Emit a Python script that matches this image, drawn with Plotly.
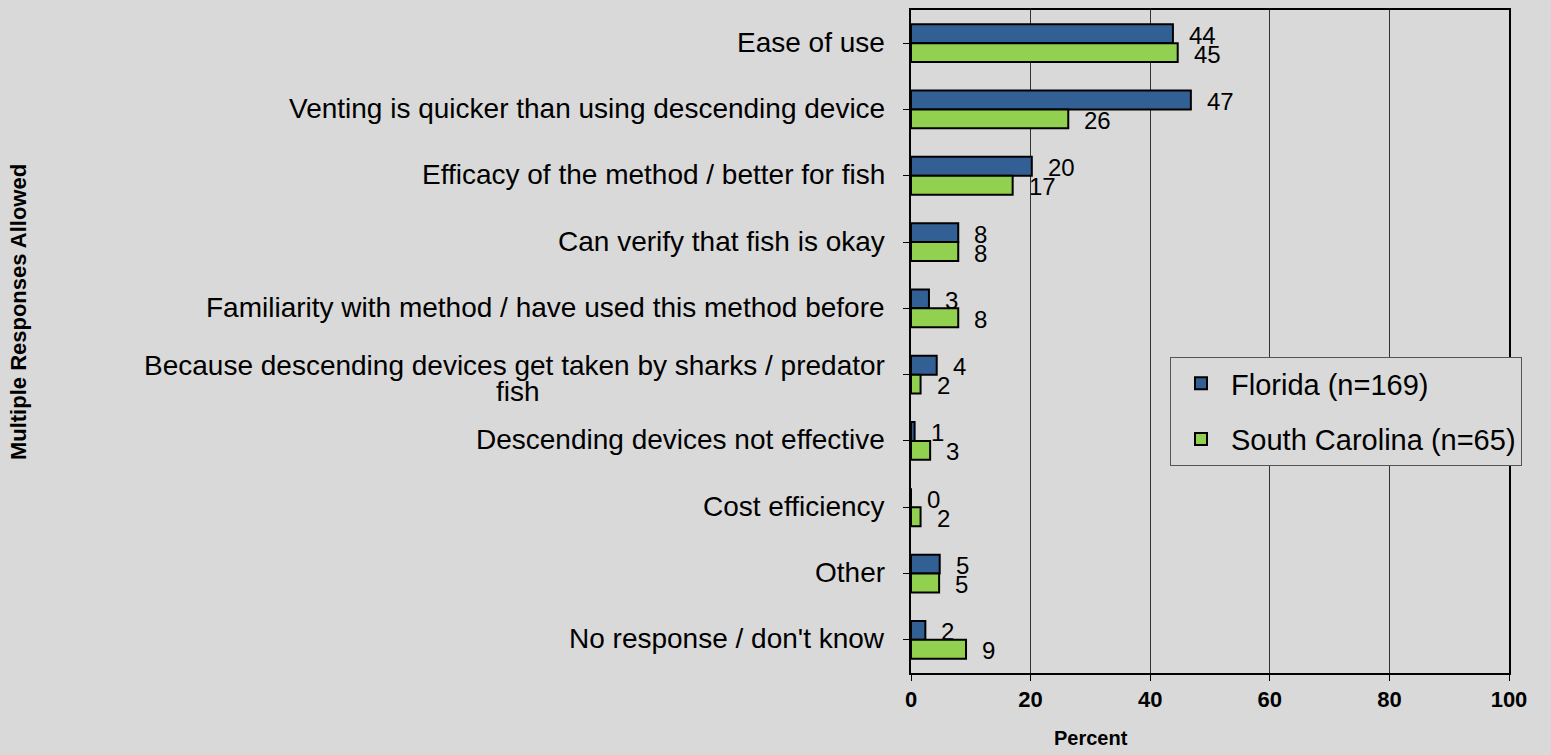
import plotly.graph_objects as go

categories = [
    "Ease of use",
    "Venting is quicker than using descending device",
    "Efficacy of the method / better for fish",
    "Can verify that fish is okay",
    "Familiarity with method / have used this method before",
    "Because descending devices get taken by sharks / predator<br>fish",
    "Descending devices not effective",
    "Cost efficiency",
    "Other",
    "No response / don't know",
]
florida = [43.8, 46.8, 20.2, 7.9, 3.0, 4.3, 0.6, 0.0, 4.8, 2.4]
south_carolina = [44.6, 26.3, 17.0, 7.9, 7.9, 1.6, 3.2, 1.6, 4.7, 9.2]
florida_labels = ["44", "47", "20", "8", "3", "4", "1", "0", "5", "2"]
sc_labels = ["45", "26", "17", "8", "8", "2", "3", "2", "5", "9"]
series_names = ["Florida (n=169)", "South Carolina (n=65)"]
x_ticks = [0, 20, 40, 60, 80, 100]

BG = "#d9d9d9"
BLUE = "#336094"
GREEN = "#92d050"
FONT = "Liberation Sans, Arial, sans-serif"

ids = list(range(len(categories)))

fig = go.Figure()
fig.add_trace(go.Bar(
    y=ids, x=florida, orientation="h", name=series_names[0], legendgroup="fl",
    marker=dict(color=BLUE, line=dict(color="black", width=2)),
))
fig.add_trace(go.Bar(
    y=ids, x=south_carolina, orientation="h", name=series_names[1], legendgroup="sc",
    marker=dict(color=GREEN, line=dict(color="black", width=2)),
))

LBL = dict(size=28, color="black", family=FONT)
annotations = []
for i, cat in enumerate(categories):
    lines = cat.split("<br>")
    if len(lines) == 1:
        annotations.append(dict(
            x=0, xref="paper", y=i, yref="y", text=cat, showarrow=False,
            xanchor="right", yanchor="middle", xshift=-24, yshift=1, font=LBL,
        ))
    else:
        # two-line label, centred lines, tight line spacing
        annotations.append(dict(
            x=0, xref="paper", y=i, yref="y", text=lines[0], showarrow=False,
            xanchor="right", yanchor="middle", xshift=-24, yshift=9, font=LBL,
        ))
        annotations.append(dict(
            x=0, xref="paper", y=i, yref="y", text=lines[1], showarrow=False,
            xanchor="center", yanchor="middle", xshift=-393, yshift=-17, font=LBL,
        ))
for i in ids:
    annotations.append(dict(
        x=florida[i], y=i, text=florida_labels[i], showarrow=False,
        xanchor="left", yanchor="middle", xshift=14, yshift=8,
        font=dict(size=24, color="black", family=FONT),
    ))
    annotations.append(dict(
        x=south_carolina[i], y=i, text=sc_labels[i], showarrow=False,
        xanchor="left", yanchor="middle", xshift=14, yshift=-11,
        font=dict(size=24, color="black", family=FONT),
    ))
annotations.append(dict(
    x=(1091 - 911) / 598, xref="paper", xanchor="center",
    y=-65 / 665, yref="paper", yanchor="middle",
    text="Percent", showarrow=False,
    font=dict(size=20, color="black", family=FONT, weight="bold"),
))
annotations.append(dict(
    x=(18 - 911) / 598, xref="paper", xanchor="center", y=(673 - 311) / 665, yref="paper",
    yanchor="middle", textangle=-90,
    text="Multiple Responses Allowed", showarrow=False,
    font=dict(size=22, color="black", family=FONT, weight="bold"),
))
fig.update_layout(annotations=annotations)

fig.update_layout(
    width=1551, height=755,
    paper_bgcolor=BG, plot_bgcolor=BG,
    margin=dict(l=911, r=42, t=8, b=82),
    barmode="group", bargap=0.43, bargroupgap=0,
    showlegend=True,
    legend=dict(
        x=(1170 - 911) / 598, y=(673 - 356) / 665, xanchor="left", yanchor="top",
        bgcolor=BG, bordercolor="#555555", borderwidth=1,
        font=dict(size=29, color="black", family=FONT),
        traceorder="grouped", tracegroupgap=15, itemwidth=50,
    ),
    font=dict(family=FONT, color="black"),
)
fig.update_xaxes(
    range=[0, 100], tickvals=x_ticks,
    tickfont=dict(size=22, color="black", family=FONT, weight="bold"),
    showgrid=True, gridcolor="#333333", gridwidth=1,
    showline=True, linecolor="black", linewidth=2, mirror=True,
    ticks="outside", ticklen=6, tickcolor="black", zeroline=False,
)
fig.update_yaxes(
    range=[len(categories) - 0.5, -0.5], tickvals=ids, showticklabels=False,
    showline=True, linecolor="black", linewidth=2, mirror=True,
    ticks="outside", ticklen=6, tickcolor="black", tickson="boundaries",
    showgrid=False, zeroline=False, type="linear",
)
fig.write_html("out.html", config={"displayModeBar": False},
               post_script="document.body.style.margin='0';")
